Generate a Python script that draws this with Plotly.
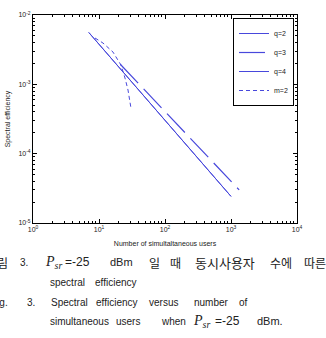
import plotly.graph_objects as go

# ---- data ----
q2_users = [7, 10, 20, 50, 100, 200, 500, 1000]
q2_eff = [5.6e-3, 3.78e-3, 1.77e-3, 6.47e-4, 3.03e-4, 1.42e-4, 5.18e-5, 2.42e-5]

q3_users = [21, 50, 100, 200, 500, 1000, 1330]
q3_eff = [1.95e-3, 8.2e-4, 4.06e-4, 2.03e-4, 8.1e-5, 4.0e-5, 3.0e-5]

q4_users = [7, 10, 20, 50, 100, 200, 500, 1000]
q4_eff = [5.6e-3, 3.78e-3, 1.77e-3, 6.47e-4, 3.03e-4, 1.42e-4, 5.18e-5, 2.42e-5]

m2_users = [8.7, 11.5, 16.3, 18.7, 21.5, 24.8, 27.5, 30.5]
m2_eff = [4.66e-3, 3.94e-3, 2.92e-3, 2.40e-3, 1.90e-3, 1.23e-3, 8.28e-4, 4.55e-4]

x_tickvals = [1, 10, 100, 1000, 10000]
x_ticktext = ["10<sup>0</sup>", "10<sup>1</sup>", "10<sup>2</sup>", "10<sup>3</sup>", "10<sup>4</sup>"]
y_tickvals = [1e-5, 1e-4, 1e-3, 1e-2]
y_ticktext = ["10<sup>-5</sup>", "10<sup>-4</sup>", "10<sup>-3</sup>", "10<sup>-2</sup>"]

# ---- layout geometry (pixels) ----
W, H = 326, 338
L, R, T, B = 33, 29, 15, 115
PW, PH = W - L - R, H - T - B


def px(x):
    return (x - L) / PW


def py(y):
    return (H - B - y) / PH


col = "#4848dc"
fig = go.Figure()
fig.add_trace(go.Scatter(x=q2_users, y=q2_eff, mode="lines", name="q=2",
                         line=dict(color=col, width=1)))
fig.add_trace(go.Scatter(x=q3_users, y=q3_eff, mode="lines", name="q=3",
                         line=dict(color=col, width=1.2, dash="26px,8px")))
fig.add_trace(go.Scatter(x=q4_users, y=q4_eff, mode="lines", name="q=4",
                         line=dict(color=col, width=1)))
fig.add_trace(go.Scatter(x=m2_users, y=m2_eff, mode="lines", name="m=2",
                         line=dict(color=col, width=1, dash="4px,3px")))

axis_common = dict(
    type="log", showline=True, linecolor="black", linewidth=1, mirror="allticks",
    ticks="inside", ticklen=4, tickcolor="black", showgrid=False, zeroline=False,
    automargin=False,
    tickfont=dict(family="Liberation Sans, Arial", size=7, color="#222"),
    minor=dict(ticks="inside", ticklen=2, tickcolor="black", showgrid=False, dtick="D1"),
)

fig.update_layout(
    width=W, height=H,
    margin=dict(l=L, r=R, t=T, b=B, pad=0, autoexpand=False),
    paper_bgcolor="white", plot_bgcolor="white",
    font=dict(family="Liberation Sans, Arial", size=7, color="#222"),
    xaxis=dict(axis_common, range=[0, 4], tickvals=x_tickvals, ticktext=x_ticktext,
               title=dict(text="Number of simultaltaneous users", standoff=8,
                          font=dict(size=7))),
    yaxis=dict(axis_common, range=[-5, -2], tickvals=y_tickvals, ticktext=y_ticktext,
               title=dict(text="Spectral efficiency", standoff=6, font=dict(size=7))),
    legend=dict(x=px(294), y=py(18), xanchor="right", yanchor="top",
                bgcolor="white", bordercolor="black", borderwidth=1,
                font=dict(size=7), tracegroupgap=0, itemwidth=30),
    showlegend=True,
)

cap_font = dict(family="Liberation Sans, Arial", size=10, color="#222")
kr_font = dict(family="Noto Sans CJK KR", size=12, color="#222")
p_font = dict(family="Liberation Serif, Times New Roman", size=14, color="#222")

caption = [
    # (text, x px, anchor, y px, font)
    ("그림", 10, "right", 262, kr_font),
    ("3.", 18, "left", 262, cap_font),
    ("<i>P</i><sub><i>sr</i></sub>", 43, "left", 262, p_font),
    ("=-25", 63, "left", 262, dict(cap_font, size=12)),
    ("dBm", 108, "left", 262, dict(cap_font, size=11)),
    ("일", 147, "left", 262, kr_font),
    ("때", 168, "left", 262, kr_font),
    ("동시사용자", 193, "left", 262, dict(kr_font, size=13)),
    ("수에", 268, "left", 262, kr_font),
    ("따른", 302, "left", 262, kr_font),
    ("spectral", 48, "left", 282, cap_font),
    ("efficiency", 93, "left", 282, cap_font),
    ("Fig.", 10, "right", 302, cap_font),
    ("3.", 25, "left", 302, cap_font),
    ("Spectral", 49, "left", 302, cap_font),
    ("efficiency", 94, "left", 302, cap_font),
    ("versus", 147, "left", 302, cap_font),
    ("number", 192, "left", 302, cap_font),
    ("of", 237, "left", 302, cap_font),
    ("simultaneous", 48, "left", 321, cap_font),
    ("users", 114, "left", 321, cap_font),
    ("when", 159, "left", 321, cap_font),
    ("<i>P</i><sub><i>sr</i></sub>", 191, "left", 321, p_font),
    ("=-25", 213, "left", 321, dict(cap_font, size=12)),
    ("dBm.", 255, "left", 321, dict(cap_font, size=11)),
]
for text, x, anchor, y, f in caption:
    fig.add_annotation(text=text, x=px(x), y=py(y), xref="paper", yref="paper",
                       xanchor=anchor, yanchor="middle", showarrow=False, font=f)

fig.write_html("out.html")
